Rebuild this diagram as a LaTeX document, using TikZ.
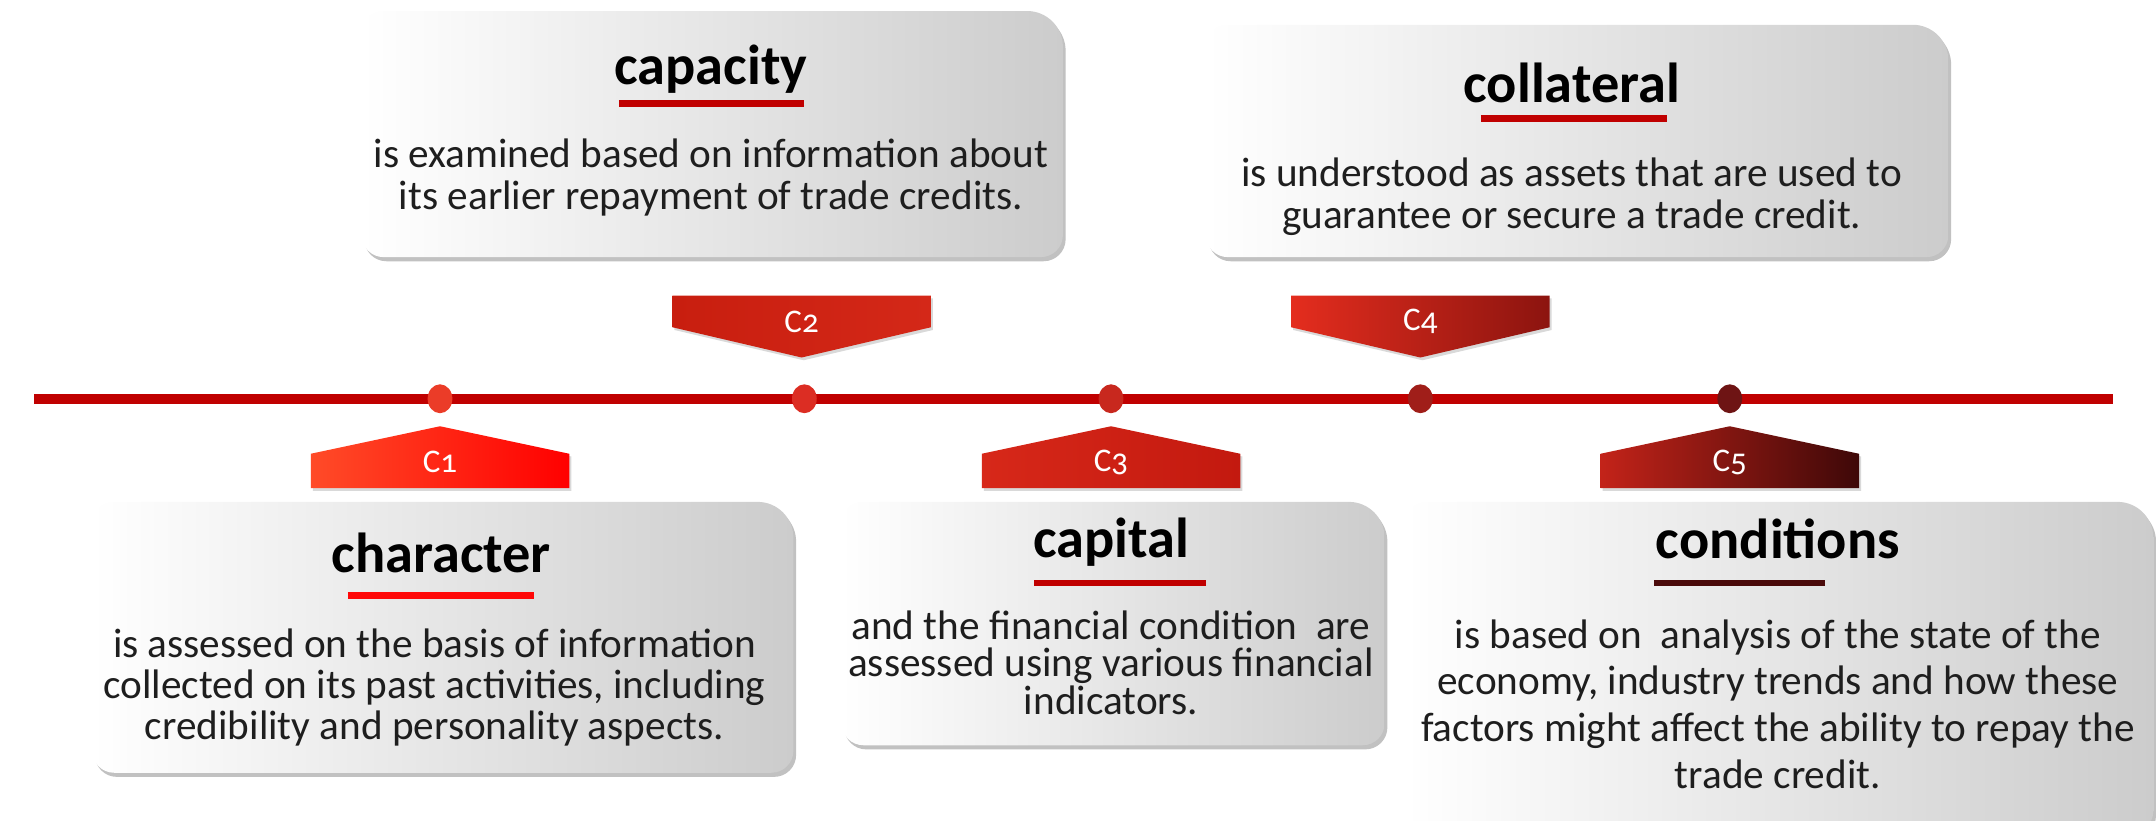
\documentclass[tikz,border=0pt]{standalone}
\usepackage{fontspec}
\setmainfont{Carlito}[Numbers=OldStyle]
\usetikzlibrary{shadows,shapes.geometric}
\definecolor{lineRed}{RGB}{192,0,0}
\definecolor{brightRed}{RGB}{255,8,8}
\definecolor{deepRed}{RGB}{74,10,10}
\definecolor{textGray}{RGB}{30,30,30}
% marker and dot shades
\definecolor{tagA}{RGB}{255,75,40}
\definecolor{tagB}{RGB}{255,0,0}
\definecolor{tagC}{RGB}{200,30,15}
\definecolor{tagD}{RGB}{212,40,24}
\definecolor{tagE}{RGB}{215,40,25}
\definecolor{tagF}{RGB}{195,25,15}
\definecolor{tagG}{RGB}{228,45,30}
\definecolor{tagH}{RGB}{140,20,15}
\definecolor{tagI}{RGB}{195,35,25}
\definecolor{tagJ}{RGB}{62,8,8}
\definecolor{dotA}{RGB}{235,60,40}
\definecolor{dotB}{RGB}{220,45,35}
\definecolor{dotC}{RGB}{200,40,30}
\definecolor{dotD}{RGB}{160,30,25}
\definecolor{dotE}{RGB}{110,20,20}

\tikzset{
  card/.style={left color=white, right color=black!20,
    drop shadow={shadow xshift=2pt, shadow yshift=-3pt, opacity=.35, fill=black!70}},
  title/.style={font=\fontsize{41}{46}\selectfont\bfseries, text=black},
  body/.style={font=\fontsize{30}{30}\selectfont, text=textGray, align=center},
  underline/.style={line width=5pt,
    drop shadow={shadow xshift=1pt, shadow yshift=-1.5pt, opacity=.3}},
  timeline/.style={line width=7pt, lineRed},
  dot/.style={ellipse, minimum width=18, minimum height=21, inner sep=0pt},
  tag/.style={font=\fontsize{24}{26}\selectfont, text=white},
  tagbox/.style={drop shadow={shadow xshift=1.5pt, shadow yshift=-2pt, opacity=.3}},
}

% rounded card: left, top, right, bottom
\newcommand\card[4]{%
    \path[card] (#1,#2+40) [rounded corners=15] -- (#1,#2) [rounded corners=26] -- (#3,#2)
        [rounded corners=16] -- (#3,#4) -- (#1,#4) -- cycle;
}

\begin{document}
\begin{tikzpicture}[x=1pt, y=-1pt]
    \useasboundingbox (0,0) rectangle (1568,597);

    % Cards
    \card{263}{8}{773}{187}
    \card{877}{18}{1417}{187}
    \card{67}{365}{577}{562}
    \card{612}{365}{1007}{542}
    \card{1022}{365}{1566}{606}

    % Timeline
    \coordinate (tl-start) at (25,290);
    \coordinate (tl-end) at (1537,290);
    \draw[timeline] (tl-start) -- (tl-end);

    % Dots on the timeline
    \foreach \x/\col [count=\i] in {320/dotA, 585/dotB, 808/dotC, 1033/dotD, 1258/dotE}
        \node[dot, fill=\col] (dot\i) at (\x,290) {};

    % Markers below the line
    \foreach \x/\n/\lc/\rc in {320/1/tagA/tagB, 808/3/tagE/tagF, 1258/5/tagI/tagJ} {
        \path[tagbox, left color=\lc, right color=\rc]
            (\x-94,355) -- (\x-94,330) -- (\x,310) -- (\x+94,330) -- (\x+94,355) -- cycle;
        \node[tag] (c\n) at (\x,336) {C\n};
    }

    % Markers above the line
    \foreach \x/\n/\lc/\rc in {583/2/tagC/tagD, 1033/4/tagG/tagH} {
        \path[tagbox, left color=\lc, right color=\rc]
            (\x-94,215) -- (\x+94,215) -- (\x+94,238) -- (\x,260) -- (\x-94,238) -- cycle;
        \node[tag] (c\n) at (\x,234) {C\n};
    }

    % Capacity
    \node[title] (capacity) at (517,50) {capacity};
    \draw[underline, lineRed] (450,75) -- (585,75);
    \node[body] (capacity-text) at (517,129) {is examined based on information about\\its earlier repayment of trade credits.};

    % Collateral
    \node[title] (collateral) at (1143,60) {collateral};
    \draw[underline, lineRed] (1077,86) -- (1212,86);
    \node[body] (collateral-text) at (1143,143) {is understood as assets that are used to\\guarantee or secure a trade credit.};

    % Character
    \node[title] (character) at (321,402) {character};
    \draw[underline, brightRed] (253,433) -- (388,433);
    \node[body] (character-text) at (316,500) {is assessed on the basis of information\\collected on its past activities, including\\credibility and personality aspects.};

    % Capital
    \node[title] (capital) at (808,394) {capital};
    \draw[underline, lineRed] (752,424) -- (877,424);
    \node[body, font=\fontsize{30}{27.5}\selectfont] (capital-text) at (808,482) {and the financial condition\ \ are\\assessed using various financial\\indicators.};

    % Conditions
    \node[title] (conditions) at (1293,392) {conditions};
    \draw[underline, deepRed] (1203,424) -- (1327,424);
    \node[body, font=\fontsize{30}{34}\selectfont] (conditions-text) at (1293,512) {is based on\ \ analysis of the state of the\\economy, industry trends and how these\\factors might affect the ability to repay the\\trade credit.};
\end{tikzpicture}
\end{document}
